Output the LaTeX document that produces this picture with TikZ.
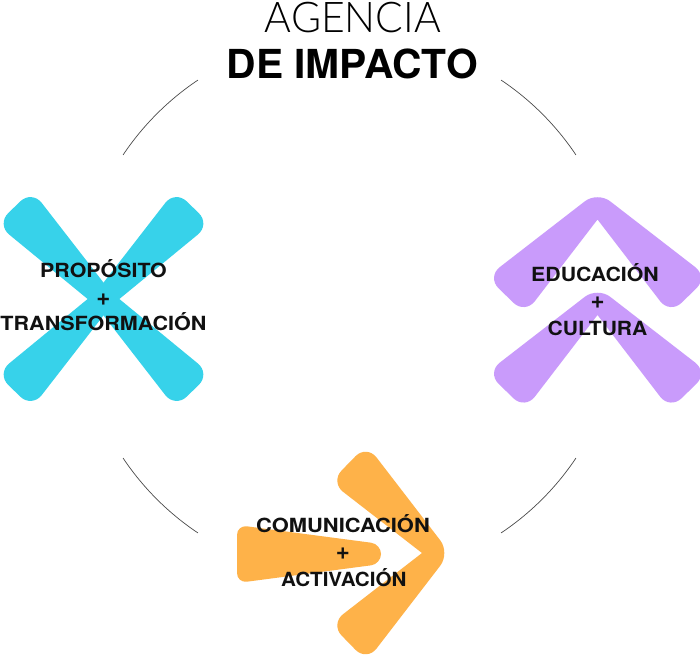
\documentclass[tikz,border=0pt]{standalone}
\usepackage{fontspec}
\usepackage{graphicx}
\setmainfont{TeX Gyre Heros}
\IfFontExistsTF{Lato Light}{\newfontfamily\lightfont{Lato Light}}{%
  \IfFontExistsTF{Fira Sans Light}{\newfontfamily\lightfont{Fira Sans Light}}{\newfontfamily\lightfont{TeX Gyre Heros}}}
\definecolor{cyanX}{HTML}{37D2EA}
\definecolor{purpleC}{HTML}{C99BFB}
\definecolor{orangeC}{HTML}{FEB249}
\definecolor{inkC}{HTML}{111111}
\definecolor{ringC}{HTML}{4A4A4A}
\tikzset{
  lbl/.style={anchor=base, inner sep=0pt, text=inkC, font=\fontsize{19.5}{23}\selectfont\bfseries},
  plus/.style={anchor=base, inner sep=0pt, text=inkC, font=\fontsize{24}{28}\selectfont\bfseries},
  ttl/.style={anchor=base, inner sep=0pt, text=black},
  ringarc/.style={draw=ringC, line width=0.7pt},
  xarm/.style={fill=cyanX, rounded corners=16pt},
  chev/.style={rounded corners=16pt},
}
\newcommand{\fitw}[2]{\resizebox{#1}{\height}{#2}}
\begin{document}
\begin{tikzpicture}[x=1pt,y=-1pt]
\useasboundingbox (0,0) rectangle (700,657);
\clip (0,0) rectangle (700,657);
\fill[white] (0,0) rectangle (700,657);
% ring arcs
\coordinate (cc) at (349.5,306.5);
\foreach \a/\b in {-123.8/-146.2, -33.8/-56.2, -213.8/-236.2, -303.8/-326.2}
  \draw[ringarc] (cc) ++(\a:272.5) arc[start angle=\a, end angle=\b, radius=272.5];
% cyan X
\foreach \a in {45.8,134.2,225.8,314.2}{
  \begin{scope}[shift={(103.5,299)}, rotate=\a]
    \fill[xarm] (-10,-9) -- (128,-24.5) -- (128,24.5) -- (-10,9) -- cycle;
  \end{scope}}
% purple chevrons
\fill[purpleC, chev] (597.5,219.5) -- (525,314) -- (487,277) -- (597.5,191.5) -- (708,277) -- (670,314) -- (597.5,219.5);
\begin{scope}[shift={(0,95.5)}]
\fill[purpleC, chev] (597.5,219.5) -- (525,314) -- (487,277) -- (597.5,191.5) -- (708,277) -- (670,314) -- (597.5,219.5);
\end{scope}
% orange arrow
\fill[orangeC, rounded corners=10pt] (237,554) -- (237,525) -- (381,544) -- (381,564) -- (237,583) -- (237,554);
\fill[orangeC, chev] (422,553) -- (330.4,482) -- (366.7,444.7) -- (450,553) -- (366.7,661.3) -- (330.4,624) -- (422,553);
% title
\node[ttl] (t1) at (352.9,32) {\resizebox{176pt}{30.3pt}{\lightfont AGENCIA}};
\node[ttl] (t2) at (352.2,78.6) {\resizebox{251pt}{29.6pt}{\bfseries DE IMPACTO}};
% labels
\node[lbl] (x1) at (103.5,277.7) {\fitw{126.5pt}{PROPÓSITO}};
\node[plus] (x2) at (103.5,305) {+};
\node[lbl] (x3) at (103.5,330.5) {\fitw{206pt}{TRANSFORMACIÓN}};
\node[lbl] (p1) at (595,281.7) {\fitw{127.6pt}{EDUCACIÓN}};
\node[plus] (p2) at (597.5,308.8) {+};
\node[lbl] (p3) at (597.5,335) {\fitw{99.7pt}{CULTURA}};
\node[lbl] (o1) at (343,532.7) {\fitw{173.6pt}{COMUNICACIÓN}};
\node[plus] (o2) at (343,559.8) {+};
\node[lbl] (o3) at (343.8,586) {\fitw{125.3pt}{ACTIVACIÓN}};
\end{tikzpicture}
\end{document}
